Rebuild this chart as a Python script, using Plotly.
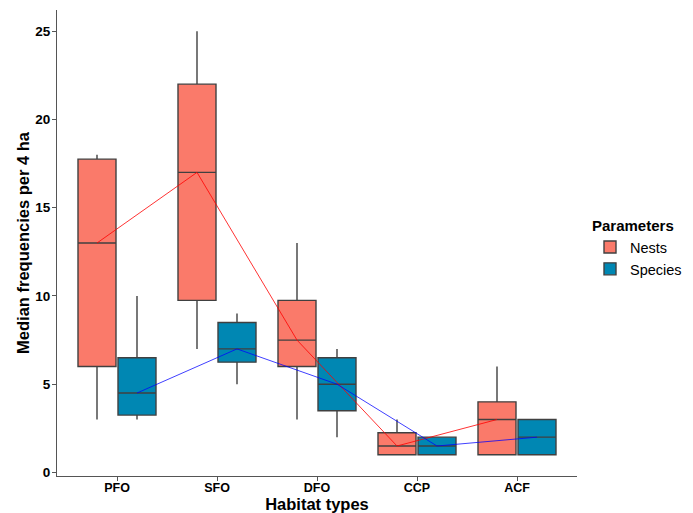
import plotly.graph_objects as go

habitats = ["PFO", "SFO", "DFO", "CCP", "ACF"]

nests_low = [3, 7, 3, 1, 1]
nests_q1 = [6, 9.75, 6, 1, 1]
nests_med = [13, 17, 7.5, 1.5, 3]
nests_q3 = [17.75, 22, 9.75, 2.25, 4]
nests_high = [18, 25, 13, 3, 6]

species_low = [3, 5, 2, 1, 1]
species_q1 = [3.25, 6.25, 3.5, 1, 1]
species_med = [4.5, 7, 5, 1.5, 2]
species_q3 = [6.5, 8.5, 6.5, 2, 3]
species_high = [10, 9, 7, 2, 3]

dodge = 0.2
box_w = 0.38
idx = list(range(len(habitats)))
x_n = [i - dodge for i in idx]
x_s = [i + dodge for i in idx]

fig = go.Figure()
fig.add_trace(go.Box(
    name="Nests", x=x_n, q1=nests_q1, median=nests_med, q3=nests_q3,
    lowerfence=nests_low, upperfence=nests_high, width=box_w,
    fillcolor="#FA7A6A", line=dict(color="#404040", width=1.4),
    whiskerwidth=0, boxpoints=False, hoverinfo="skip"))
fig.add_trace(go.Box(
    name="Species", x=x_s, q1=species_q1, median=species_med, q3=species_q3,
    lowerfence=species_low, upperfence=species_high, width=box_w,
    fillcolor="#0087B3", line=dict(color="#404040", width=1.4),
    whiskerwidth=0, boxpoints=False, hoverinfo="skip"))
fig.add_trace(go.Scatter(x=x_n, y=nests_med, mode="lines",
                         line=dict(color="rgba(255,0,0,0.8)", width=1),
                         showlegend=False, hoverinfo="skip"))
fig.add_trace(go.Scatter(x=x_s, y=species_med, mode="lines",
                         line=dict(color="rgba(0,0,255,0.75)", width=1),
                         showlegend=False, hoverinfo="skip"))

xfont = dict(family="Liberation Sans, Arial, sans-serif", size=12.5, color="black")
yfont = dict(family="Liberation Sans, Arial, sans-serif", size=13.5, color="black")
# page body adds an 8px margin; margins below compensate for it
fig.update_layout(
    width=693, height=513,
    margin=dict(l=49, r=124, t=2, b=45),
    plot_bgcolor="white", paper_bgcolor="white",
    font=dict(family="Liberation Sans, Arial, sans-serif", color="black"),
    xaxis=dict(
        tickmode="array", tickvals=idx, ticktext=["<b>%s</b>" % h for h in habitats],
        range=[-0.6, 4.6], showgrid=False, zeroline=False, automargin=False,
        showline=True, linecolor="#555555", linewidth=1.2,
        ticks="outside", ticklen=4, tickcolor="#555555", tickfont=xfont,
        ticklabelstandoff=-4,
        title=dict(text="<b>Habitat types</b>", font=dict(size=16.5), standoff=2)),
    yaxis=dict(
        range=[-0.2, 26.2], tickvals=[0, 5, 10, 15, 20, 25],
        ticktext=["<b>%d</b>" % v for v in [0, 5, 10, 15, 20, 25]],
        showgrid=False, zeroline=False, automargin=False,
        showline=True, linecolor="#555555", linewidth=1.2,
        ticks="outside", ticklen=4, tickcolor="#555555", tickfont=yfont,
        ticklabelstandoff=-1,
        title=dict(text="<b>Median frequencies per 4 ha</b>", font=dict(size=16.5), standoff=1)),
    legend=dict(
        title=dict(text="<b>Parameters</b>", font=dict(size=15)),
        font=dict(size=14.5), x=1.025, xanchor="left", y=0.488, yanchor="middle",
        tracegroupgap=0, itemwidth=30),
    showlegend=True,
)

fig.write_html("out.html")
